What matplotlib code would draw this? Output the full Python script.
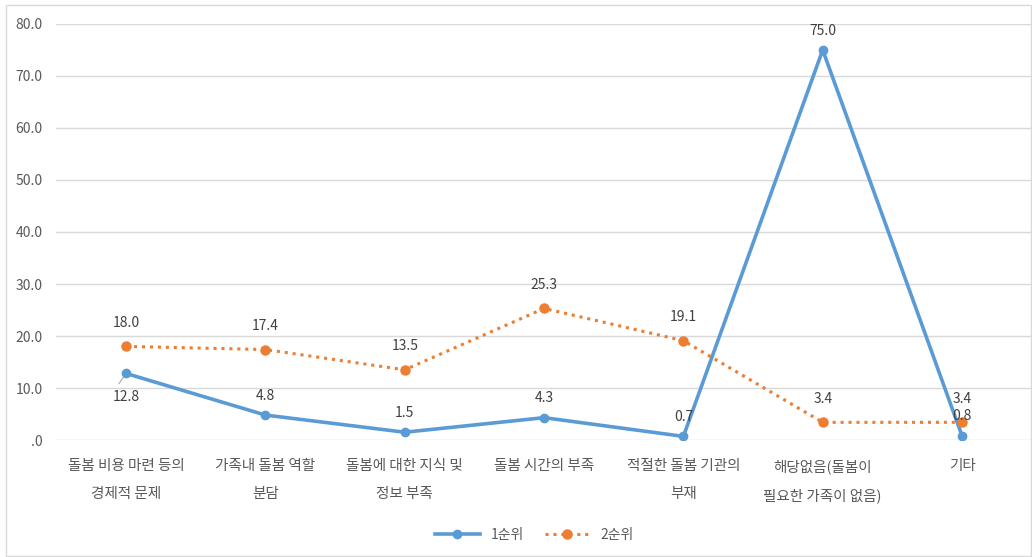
import matplotlib.pyplot as plt
from matplotlib.patches import Rectangle

plt.rcParams['font.family'] = ['Noto Sans CJK KR', 'DejaVu Sans']

categories = ["돌봄 비용 마련 등의\n경제적 문제", "가족내 돌봄 역할\n분담", "돌봄에 대한 지식 및\n정보 부족",
              "돌봄 시간의 부족", "적절한 돌봄 기관의\n부재", "해당없음(돌봄이\n필요한 가족이 없음)", "기타"]
rank1 = [12.8, 4.8, 1.5, 4.3, 0.7, 75.0, 0.8]
rank2 = [18.0, 17.4, 13.5, 25.3, 19.1, 3.4, 3.4]
yticks = [0, 10, 20, 30, 40, 50, 60, 70, 80]
ytick_labels = [".0", "10.0", "20.0", "30.0", "40.0", "50.0", "60.0", "70.0", "80.0"]

blue = "#5b9bd5"
orange = "#ed7d31"
gray = "#595959"

fig = plt.figure(figsize=(10.32, 5.57), dpi=100)
ax = fig.add_axes([0.0547, 0.21, 0.945, 0.747])
x = list(range(len(categories)))

ax.plot(x, rank1, color=blue, lw=2.6, marker="o", ms=6, label="1순위", zorder=3)
ax.plot(x, rank2, color=orange, lw=2.2, ls=(0, (1, 1.6)), marker="o", ms=6.5, label="2순위", zorder=3)

# data labels (12.8 sits below its point)
for i, v in enumerate(rank1):
    off = -17 if i == 0 else 14
    ax.annotate(f"{v:.1f}", (i, v), xytext=(0, off), textcoords="offset points",
                ha="center", va="center", fontsize=10, color="#404040")
for i, v in enumerate(rank2):
    ax.annotate(f"{v:.1f}", (i, v), xytext=(0, 17), textcoords="offset points",
                ha="center", va="center", fontsize=10, color="#404040")
ax.plot([0, -0.05], [12.8, 10.9], color="#a6a6a6", lw=0.8)

ax.set_xlim(-0.5, len(categories) - 0.5)
ax.set_ylim(0, 80)
ax.set_yticks(yticks)
ax.set_yticklabels(ytick_labels)
ax.set_xticks(x)
ax.set_xticklabels(categories, linespacing=2.2)
ax.tick_params(axis="y", length=0, colors=gray, labelsize=10, pad=10)
ax.tick_params(axis="x", length=0, colors=gray, labelsize=10.5, pad=14)
ax.grid(axis="y", color="#d9d9d9", lw=1)
ax.set_axisbelow(True)
for s in ax.spines.values():
    s.set_visible(False)

ax.legend(loc="center", bbox_to_anchor=(0.49, -0.228), ncol=2, frameon=False,
          fontsize=10, labelcolor=gray, handlelength=3.2, columnspacing=1.5)

fig.patches.append(Rectangle((0.006, 0.002), 0.993, 0.989, transform=fig.transFigure,
                             fill=False, edgecolor="#d9d9d9", lw=1))

plt.savefig("out.png", dpi=100)
